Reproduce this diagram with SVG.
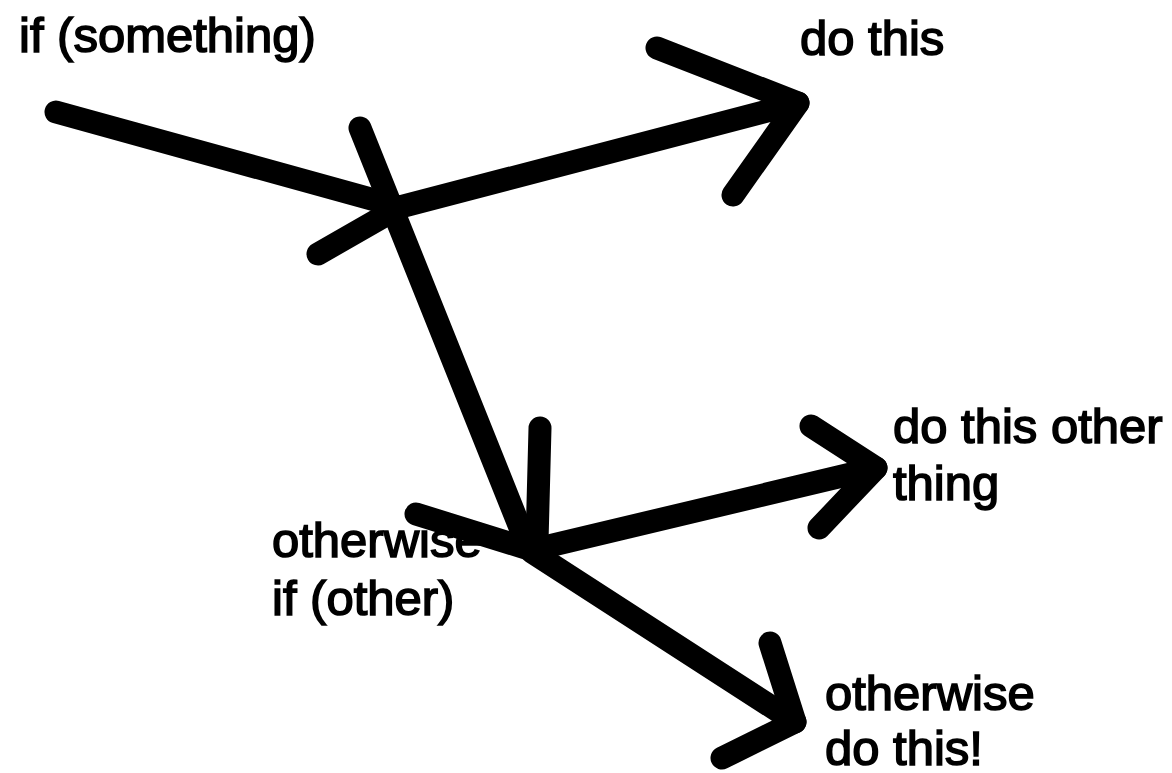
<svg xmlns="http://www.w3.org/2000/svg" width="1172" height="773" viewBox="0 0 1172 773">
<style>
  .lbl { font-family: "Liberation Sans", Arial, sans-serif; font-size: 49px; fill: #000; stroke: #000; stroke-width: 1.6; }
  .ln { fill: none; stroke: #000; stroke-width: 23; stroke-linecap: round; stroke-linejoin: round; }
</style>
<rect width="1172" height="773" fill="#fff"/>
<g id="start">
  <text class="lbl" x="19" y="52" font-size="50">if (something)</text>
</g>
<g id="do-this">
  <text class="lbl" x="800" y="55">do this</text>
</g>
<g id="otherwise-if">
  <text class="lbl" x="272" y="557">otherwise</text>
  <text class="lbl" x="272" y="615">if (other)</text>
</g>
<g id="do-other">
  <text class="lbl" x="893" y="443">do this other</text>
  <text class="lbl" x="893" y="500">thing</text>
</g>
<g id="otherwise-do">
  <text class="lbl" x="825" y="710">otherwise</text>
  <text class="lbl" x="825" y="765">do this!</text>
</g>
<g id="connectors">
  <path class="ln" d="M56 112 L400 207"/>
  <path class="ln" d="M318 254 L400 207"/>
  <path class="ln" d="M400 207 L798 103"/>
  <path class="ln" d="M657 48 L798 103 L733 195"/>
  <path class="ln" d="M360 128 L527 545"/>
  <path class="ln" d="M540 428 L537 542"/>
  <path class="ln" d="M416 514 L532 550"/>
  <path class="ln" d="M532 550 L876 468"/>
  <path class="ln" d="M811 426 L876 468 L819 528"/>
  <path class="ln" d="M532 552 L795 722"/>
  <path class="ln" d="M770 643 L795 722 L722 758"/>
</g>
</svg>
